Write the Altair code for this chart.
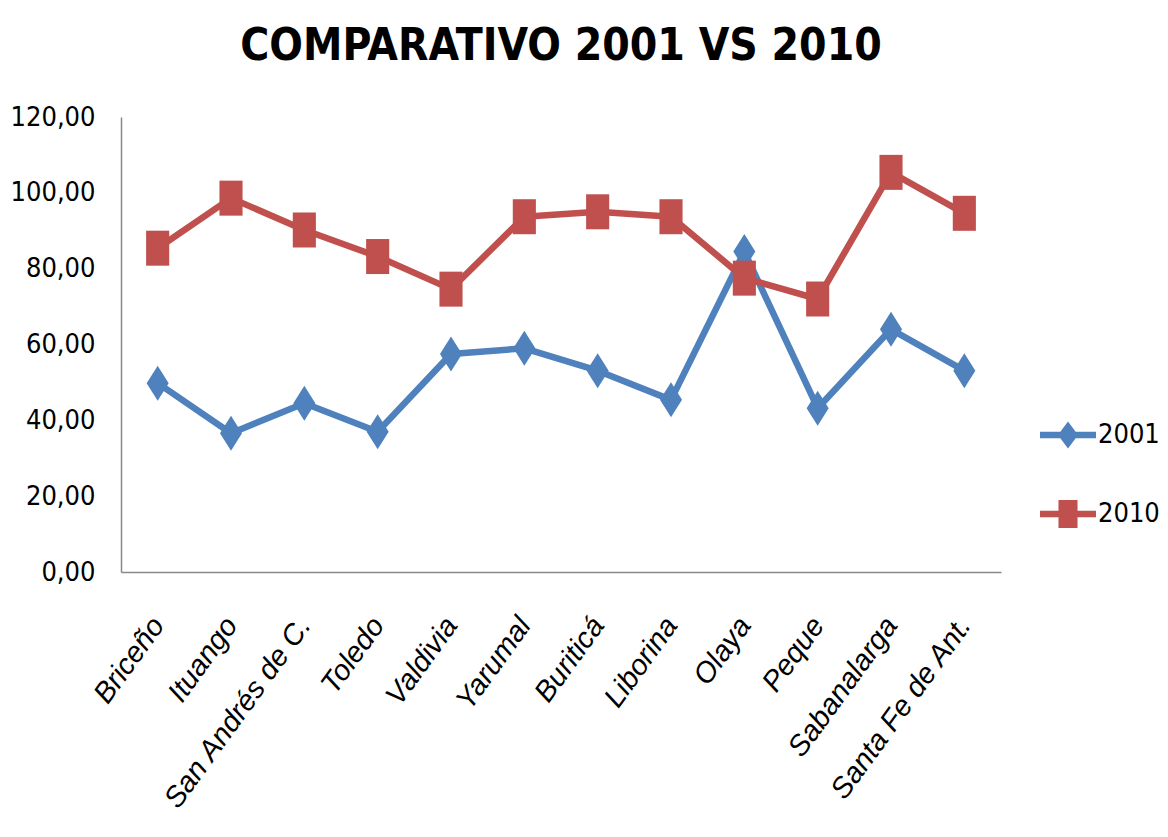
import altair as alt
import pandas as pd

categories = ["Briceño", "Ituango", "San Andrés de C.", "Toledo", "Valdivia", "Yarumal",
              "Buriticá", "Liborina", "Olaya", "Peque", "Sabanalarga", "Santa Fe de Ant."]
v2001 = [49.8, 36.6, 44.5, 37.0, 57.5, 59.0, 53.1, 45.4, 84.5, 43.2, 64.0, 53.1]
v2010 = [85.4, 98.6, 90.2, 83.2, 74.6, 93.7, 95.0, 93.7, 77.5, 72.0, 105.4, 94.6]
series = ["2001", "2010"]
colors = ["#4F81BD", "#C0504D"]
y_ticks = [0, 20, 40, 60, 80, 100, 120]

rows = []
for name, vals in zip(series, [v2001, v2010]):
    for c, v in zip(categories, vals):
        rows.append({"municipio": c, "valor": v, "serie": name})
df = pd.DataFrame(rows)

FONT = "DejaVu Sans Condensed"
XFONT = "Liberation Sans"
DIAMOND = "M0,-1L0.63,0L0,1L-0.63,0Z"
SQUARE = "M-0.66,-1L0.66,-1L0.66,1L-0.66,1Z"
LEG_DIAMOND = "M-1,-0.12L1,-0.12L1,0.12L-1,0.12Z M0,-0.48L0.36,0L0,0.48L-0.36,0Z"
LEG_SQUARE = "M-1,-0.12L1,-0.12L1,0.12L-1,0.12Z M-0.34,-0.5L0.34,-0.5L0.34,0.5L-0.34,0.5Z"

x = alt.X("municipio:N", sort=categories, title=None,
          scale=alt.Scale(paddingInner=0, paddingOuter=0),
          axis=alt.Axis(labelAngle=-54, labelFont=XFONT, labelFontSize=29, labelFontStyle="italic",
                        labelColor="black", labelPadding=48, ticks=False, labelLimit=0,
                        domainColor="#888888", domainWidth=1.5, labelOverlap=False))
y = alt.Y("valor:Q", title=None,
          scale=alt.Scale(domain=[0, 120], nice=False, zero=True),
          axis=alt.Axis(values=y_ticks, grid=False, ticks=False, labelFont=FONT, labelFontSize=27,
                        labelColor="black", labelPadding=26, domainColor="#888888", domainWidth=1.5,
                        labelExpr="replace(format(datum.value, '.2f'), '.', ',')"))
color_scale = alt.Scale(domain=series, range=colors)

base = alt.Chart(df)

lines = base.mark_line(strokeWidth=6.5, strokeJoin="round", strokeCap="round").encode(
    x=x, y=y,
    color=alt.Color("serie:N", scale=color_scale, legend=None),
)

points = base.mark_point(filled=True, opacity=1, size=1225, strokeWidth=0).encode(
    x=x, y=y,
    color=alt.Color("serie:N", scale=color_scale, legend=None),
    shape=alt.Shape("serie:N", scale=alt.Scale(domain=series, range=[DIAMOND, SQUARE]), legend=None),
)

leg_props = dict(title=None, orient="none", legendX=919, legendY=290,
                 symbolSize=3136, symbolStrokeWidth=0, symbolOpacity=1,
                 labelFont=FONT, labelFontSize=27, labelColor="black",
                 labelOffset=2, rowPadding=37, padding=0, labelLimit=0)

legend_layer = base.mark_point(filled=True, opacity=0, size=10, strokeWidth=0).encode(
    x=x, y=y,
    color=alt.Color("serie:N", scale=color_scale, legend=alt.Legend(**leg_props)),
    shape=alt.Shape("serie:N", scale=alt.Scale(domain=series, range=[LEG_DIAMOND, LEG_SQUARE]),
                    legend=alt.Legend(**leg_props)),
)

chart = alt.layer(lines, points, legend_layer).resolve_scale(
    color="independent", shape="independent"
).properties(
    width=880, height=455, background="white",
    title=alt.TitleParams("COMPARATIVO 2001 VS 2010", font=FONT, fontSize=44, fontWeight="bold",
                          color="black", anchor="middle", offset=34),
    autosize=alt.AutoSizeParams(type="none"),
    padding={"left": 113, "top": 109, "right": 159, "bottom": 248},
).configure_view(strokeWidth=0, stroke="transparent")

chart.save("out.html", embed_options={"renderer": "svg", "actions": False})
